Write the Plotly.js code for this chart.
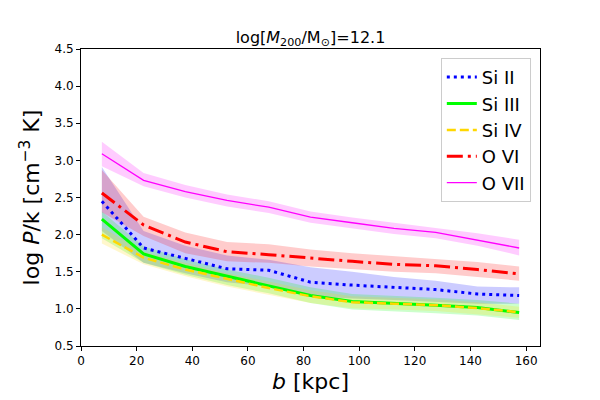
<!DOCTYPE html>
<html>
<head>
<meta charset="utf-8">
<script src="https://cdn.plot.ly/plotly-3.0.1.min.js"></script>
<style>html,body{margin:0;padding:0;background:#fff;}#chart{width:600px;height:400px;}</style>
</head>
<body>
<div id="chart"></div>
<script>
// impact parameter bins [kpc]
const b_kpc = [7.5, 22.5, 37.5, 52.5, 67.5, 82.5, 97.5, 112.5, 127.5, 142.5, 157.5];

// median log P/k per ion
const siII  = [2.45, 1.82, 1.68, 1.54, 1.52, 1.36, 1.32, 1.29, 1.26, 1.20, 1.18];
const siIII = [2.21, 1.74, 1.57, 1.44, 1.31, 1.18, 1.10, 1.08, 1.05, 1.02, 0.95];
const siIV  = [2.00, 1.69, 1.53, 1.40, 1.28, 1.17, 1.09, 1.07, 1.05, 1.01, 0.955];
const oVI   = [2.56, 2.13, 1.90, 1.77, 1.73, 1.68, 1.64, 1.60, 1.58, 1.53, 1.47];
const oVII  = [3.09, 2.73, 2.58, 2.46, 2.37, 2.235, 2.16, 2.085, 2.03, 1.93, 1.82];

// scatter band (upper / lower)
const siII_hi  = [2.91, 2.05, 1.85, 1.72, 1.66, 1.56, 1.50, 1.43, 1.38, 1.30, 1.29];
const siII_lo  = [2.05, 1.62, 1.48, 1.36, 1.30, 1.17, 1.14, 1.12, 1.10, 1.07, 1.07];
const siIII_hi = [2.31, 1.84, 1.67, 1.53, 1.42, 1.29, 1.20, 1.18, 1.15, 1.12, 1.07];
const siIII_lo = [1.95, 1.62, 1.46, 1.32, 1.21, 1.08, 0.99, 0.97, 0.94, 0.91, 0.85];
const siIV_hi  = [2.10, 1.77, 1.62, 1.48, 1.37, 1.25, 1.17, 1.15, 1.13, 1.09, 1.03];
const siIV_lo  = [1.88, 1.60, 1.44, 1.30, 1.19, 1.08, 1.01, 0.99, 0.97, 0.93, 0.88];
const oVI_hi   = [2.87, 2.24, 2.03, 1.90, 1.87, 1.80, 1.75, 1.71, 1.68, 1.63, 1.57];
const oVI_lo   = [2.30, 1.98, 1.75, 1.64, 1.62, 1.57, 1.53, 1.50, 1.48, 1.43, 1.38];
const oVII_hi  = [3.25, 2.83, 2.67, 2.54, 2.45, 2.31, 2.23, 2.16, 2.10, 2.02, 1.93];
const oVII_lo  = [2.92, 2.65, 2.50, 2.38, 2.29, 2.16, 2.09, 2.01, 1.95, 1.85, 1.72];

const names = ['Si II', 'Si III', 'Si IV', 'O VI', 'O VII'];

const series = [
  {name: names[0], y: siII,  hi: siII_hi,  lo: siII_lo,  color: '#0000ff', fill: 'rgba(0,0,255,0.2)',   width: 3,   dash: '3px,4px'},
  {name: names[1], y: siIII, hi: siIII_hi, lo: siIII_lo, color: '#00ff00', fill: 'rgba(0,255,0,0.2)',   width: 3,   dash: 'solid'},
  {name: names[2], y: siIV,  hi: siIV_hi,  lo: siIV_lo,  color: '#ffd700', fill: 'rgba(255,215,0,0.2)', width: 2.5, dash: '9px,4px'},
  {name: names[3], y: oVI,   hi: oVI_hi,   lo: oVI_lo,   color: '#ff0000', fill: 'rgba(255,0,0,0.2)',   width: 3,   dash: '16px,5px,3px,5px'},
  {name: names[4], y: oVII,  hi: oVII_hi,  lo: oVII_lo,  color: '#ff00ff', fill: 'rgba(255,0,255,0.2)', width: 1.3, dash: 'solid'}
];

const traces = [];
series.forEach(s => {
  traces.push({
    x: b_kpc.concat(b_kpc.slice().reverse()),
    y: s.hi.concat(s.lo.slice().reverse()),
    type: 'scatter', mode: 'lines', fill: 'toself', fillcolor: s.fill,
    line: {width: 0, color: 'rgba(0,0,0,0)'}, showlegend: false, hoverinfo: 'skip'
  });
});
series.forEach(s => {
  traces.push({
    x: b_kpc, y: s.y, name: s.name, type: 'scatter', mode: 'lines',
    line: {color: s.color, width: s.width, dash: s.dash}
  });
});

const layout = {
  width: 600, height: 400,
  margin: {l: 81, r: 60, t: 49, b: 54},
  paper_bgcolor: '#fff', plot_bgcolor: '#fff',
  font: {family: 'DejaVu Sans, sans-serif', color: '#000', size: 12},
  title: {text: 'log[<i>M</i><sub>200</sub>/M<sub>⊙</sub>]=12.1', font: {size: 16},
          x: 0.5, xref: 'paper', xanchor: 'center', y: 1, yref: 'paper', yanchor: 'bottom', pad: {b: 6}},
  xaxis: {
    range: [0, 165], dtick: 20, tick0: 0,
    showline: true, mirror: true, linecolor: '#000', linewidth: 1,
    ticks: 'outside', ticklen: 4, tickcolor: '#000', showgrid: false, zeroline: false,
    tickfont: {size: 12},
    title: {text: '<i>b</i> [kpc]', font: {size: 22}, standoff: 6}
  },
  yaxis: {
    range: [0.5, 4.5], dtick: 0.5, tick0: 0.5, tickformat: '.1f',
    showline: true, mirror: true, linecolor: '#000', linewidth: 1,
    ticks: 'outside', ticklen: 4, tickcolor: '#000', showgrid: false, zeroline: false,
    tickfont: {size: 12},
    title: {text: 'log <i>P</i>/k [cm<sup>−3</sup> K]', font: {size: 22}, standoff: 8}
  },
  legend: {
    x: 0.98, y: 0.97, xanchor: 'right', yanchor: 'top',
    bgcolor: 'rgba(255,255,255,0.8)', bordercolor: '#cccccc', borderwidth: 1,
    font: {size: 18}
  },
  showlegend: true
};

Plotly.newPlot('chart', traces, layout, {staticPlot: true, displayModeBar: false});
</script>
</body>
</html>
